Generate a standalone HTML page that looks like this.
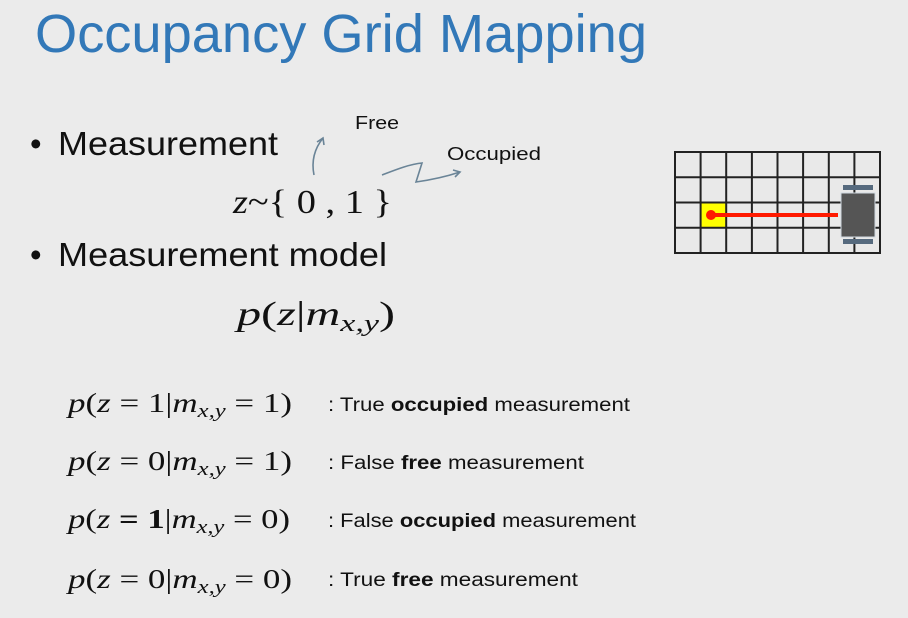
<!DOCTYPE html>
<html><head><meta charset="utf-8"><style>
html,body{margin:0;padding:0;background:#ebebeb;}
svg{display:block;}
.s{font-family:"Liberation Sans",sans-serif;}
.m{font-family:"Liberation Serif","DejaVu Serif",serif;}
</style></head><body>
<svg width="908" height="618" viewBox="0 0 908 618" xmlns="http://www.w3.org/2000/svg">
<rect width="908" height="618" fill="#ebebeb"/>
<text class="s" x="35" y="52" font-size="54" fill="#3278b8" textLength="612" lengthAdjust="spacingAndGlyphs">Occupancy Grid Mapping</text>

<text class="s" x="30" y="155" font-size="33" fill="#111">•</text>
<text class="s" x="58" y="155" font-size="33" fill="#111" textLength="220" lengthAdjust="spacingAndGlyphs">Measurement</text>
<text class="s" x="30" y="266" font-size="33" fill="#111">•</text>
<text class="s" x="58" y="266" font-size="33" fill="#111" textLength="329" lengthAdjust="spacingAndGlyphs">Measurement model</text>

<text class="s" x="355" y="129" font-size="18" fill="#111" textLength="44" lengthAdjust="spacingAndGlyphs">Free</text>
<text class="s" x="447" y="160" font-size="18" fill="#111" textLength="94" lengthAdjust="spacingAndGlyphs">Occupied</text>

<g fill="none" stroke="#6a8497" stroke-width="1.6">
<path d="M314,175 C311,160 315,148 323,138"/>
<path d="M317,142 L323,138 L324,145"/>
<path d="M382,175 C395,170 410,164 422,163 L416,182 C430,180 445,177 460,172"/>
<path d="M453,170 L460,172 L455,177"/>
</g>

<text class="m" x="233" y="213" font-size="34" fill="#111" textLength="159" lengthAdjust="spacingAndGlyphs"><tspan font-style="italic">z</tspan>~{ 0 , 1 }</text>
<text class="m" x="237" y="325" font-size="34" fill="#111" textLength="158" lengthAdjust="spacingAndGlyphs"><tspan font-style="italic">p</tspan>(<tspan font-style="italic">z</tspan>|<tspan font-style="italic">m</tspan><tspan font-style="italic" font-size="24" dy="6">x,y</tspan><tspan dy="-6">)</tspan></text>

<g class="m" font-size="27" fill="#111">
<text x="68" y="412" textLength="224" lengthAdjust="spacingAndGlyphs"><tspan font-style="italic">p</tspan>(<tspan font-style="italic">z</tspan> = 1|<tspan font-style="italic">m</tspan><tspan font-style="italic" font-size="19" dy="5">x,y</tspan><tspan dy="-5"> = 1)</tspan></text>
<text x="68" y="470" textLength="224" lengthAdjust="spacingAndGlyphs"><tspan font-style="italic">p</tspan>(<tspan font-style="italic">z</tspan> = 0|<tspan font-style="italic">m</tspan><tspan font-style="italic" font-size="19" dy="5">x,y</tspan><tspan dy="-5"> = 1)</tspan></text>
<text x="68" y="528" textLength="222" lengthAdjust="spacingAndGlyphs"><tspan font-style="italic">p</tspan>(<tspan font-style="italic">z</tspan> <tspan font-weight="bold">= 1</tspan>|<tspan font-style="italic">m</tspan><tspan font-style="italic" font-size="19" dy="5">x,y</tspan><tspan dy="-5"> = 0)</tspan></text>
<text x="68" y="588" textLength="224" lengthAdjust="spacingAndGlyphs"><tspan font-style="italic">p</tspan>(<tspan font-style="italic">z</tspan> = 0|<tspan font-style="italic">m</tspan><tspan font-style="italic" font-size="19" dy="5">x,y</tspan><tspan dy="-5"> = 0)</tspan></text>
</g>
<g class="s" font-size="19" fill="#111">
<text x="328" y="411" textLength="302" lengthAdjust="spacingAndGlyphs">: True <tspan font-weight="bold">occupied</tspan> measurement</text>
<text x="328" y="469" textLength="256" lengthAdjust="spacingAndGlyphs">: False <tspan font-weight="bold">free</tspan> measurement</text>
<text x="328" y="527" textLength="308" lengthAdjust="spacingAndGlyphs">: False <tspan font-weight="bold">occupied</tspan> measurement</text>
<text x="328" y="586" textLength="250" lengthAdjust="spacingAndGlyphs">: True <tspan font-weight="bold">free</tspan> measurement</text>
</g>

<rect x="675" y="152" width="205" height="101" fill="#e9e9e9"/>
<rect x="701" y="203" width="25.6" height="25" fill="#ffff00"/>
<g stroke="#222" stroke-width="2" fill="none">
<rect x="675" y="152" width="205" height="101"/>
<line x1="700.6" y1="152" x2="700.6" y2="253"/>
<line x1="726.2" y1="152" x2="726.2" y2="253"/>
<line x1="751.9" y1="152" x2="751.9" y2="253"/>
<line x1="777.5" y1="152" x2="777.5" y2="253"/>
<line x1="803.1" y1="152" x2="803.1" y2="253"/>
<line x1="828.8" y1="152" x2="828.8" y2="253"/>
<line x1="854.4" y1="152" x2="854.4" y2="253"/>
<line x1="675" y1="177.3" x2="880" y2="177.3"/>
<line x1="675" y1="202.5" x2="880" y2="202.5"/>
<line x1="675" y1="227.8" x2="880" y2="227.8"/>
</g>
<line x1="712" y1="215" x2="838" y2="215" stroke="#ff1a00" stroke-width="4"/>
<circle cx="711" cy="215" r="5" fill="#ff1a00"/>
<rect x="843" y="185" width="30" height="5" fill="#566a7e"/>
<rect x="843" y="239" width="30" height="5" fill="#566a7e"/>
<rect x="841" y="193" width="34" height="44" fill="#555" stroke="#cfd8e0" stroke-width="1"/>
</svg>
</body></html>
